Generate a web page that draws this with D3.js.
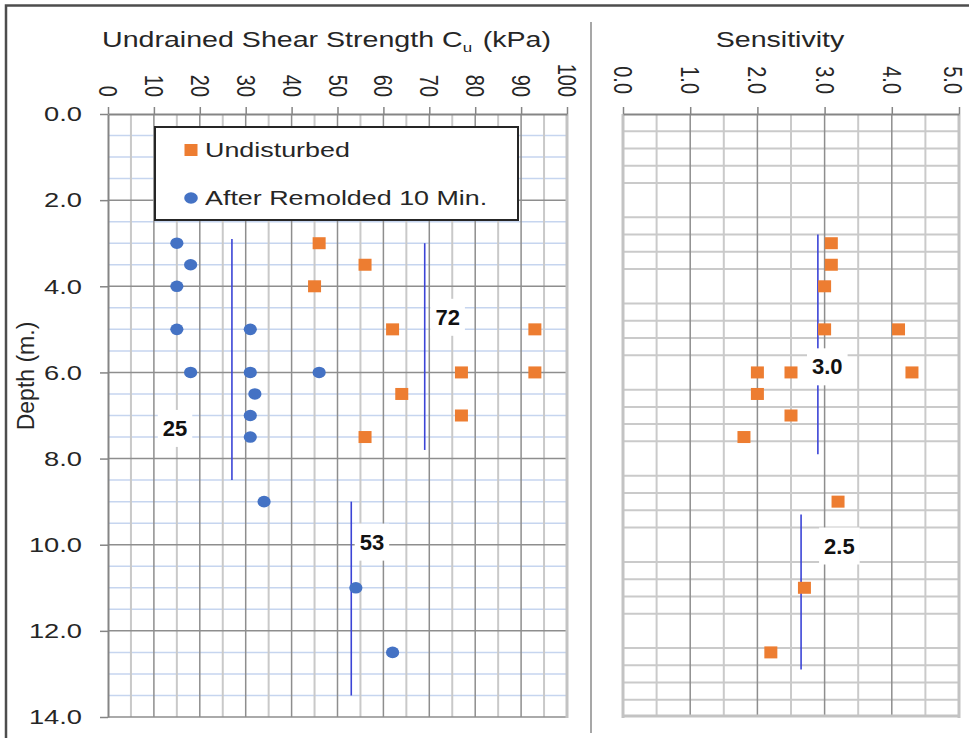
<!DOCTYPE html>
<html>
<head>
<meta charset="utf-8">
<script src="https://cdn.jsdelivr.net/npm/d3@7"></script>
<style>
  html, body { margin: 0; padding: 0; background: #ffffff; }
  svg { display: block; }
  text { font-family: "Liberation Sans", Arial, sans-serif; fill: #262626; }
</style>
</head>
<body>
<svg id="chart" width="969" height="738"></svg>
<script>
// ---------------- DATA ----------------
const cuTicks = [0, 10, 20, 30, 40, 50, 60, 70, 80, 90, 100];
const sensTicks = [0, 1, 2, 3, 4, 5];
const sensTickLabels = ["0.0", "1.0", "2.0", "3.0", "4.0", "5.0"];
const depthTicks = [0, 2, 4, 6, 8, 10, 12, 14];
const depthTickLabels = ["0.0", "2.0", "4.0", "6.0", "8.0", "10.0", "12.0", "14.0"];

const seriesNames = ["Undisturbed", "After Remolded 10 Min."];

const depthUndisturbed = [3.0, 3.5, 4.0, 5.0, 5.0, 6.0, 6.0, 6.5, 7.0, 7.5];
const cuUndisturbed    = [46, 56, 45, 62, 93, 77, 93, 64, 77, 56];

const depthRemolded = [3.0, 3.5, 4.0, 5.0, 5.0, 6.0, 6.0, 6.0, 6.5, 7.0, 7.5, 9.0, 11.0, 12.5];
const cuRemolded    = [15, 18, 15, 15, 31, 18, 31, 46, 32, 31, 31, 34, 54, 62];

const depthSensitivity = [3.0, 3.5, 4.0, 5.0, 5.0, 6.0, 6.0, 6.0, 6.5, 7.0, 7.5, 9.0, 11.0, 12.5];
const sensitivity      = [3.1, 3.1, 3.0, 3.0, 4.1, 2.0, 2.5, 4.3, 2.0, 2.5, 1.8, 3.2, 2.7, 2.2];

// average lines (Cu panel)
const cuAvgText   = ["25", "72", "53"];
const cuAvgValue  = [27, 69, 53];
const cuAvgFrom   = [2.9, 3.0, 9.0];
const cuAvgTo     = [8.5, 7.8, 13.5];
// average lines (Sensitivity panel)
const sensAvgText  = ["3.0", "2.5"];
const sensAvgValue = [2.9, 2.65];
const sensAvgFrom  = [2.8, 9.3];
const sensAvgTo    = [7.9, 12.9];

// ---------------- LAYOUT ----------------
const svg = d3.select("#chart");
const SX = 1.3; // horizontal glyph stretch seen in the reference

const yD = d3.scaleLinear().domain([0, 14]).range([114, 717]);
const xCu = d3.scaleLinear().domain([0, 100]).range([108, 567]);
const xS = d3.scaleLinear().domain([0, 5]).range([623, 959]);

// label anchor positions (data coords) for the average annotations
const cuAvgLabelPos = [[14.6, 7.3], [74, 4.72], [57.5, 9.94]];
const sensAvgLabelPos = [[3.04, 5.87], [3.22, 10.03]];

function sText(g, x, y, str, o) {
  const tr = `translate(${x},${y}) scale(${o.sx == null ? SX : o.sx},1)` + (o.rot ? ` rotate(${o.rot})` : "");
  return g.append("text")
    .attr("transform", tr)
    .attr("text-anchor", o.anchor || "start")
    .attr("dominant-baseline", o.base || "auto")
    .style("font-size", o.size + "px")
    .style("font-weight", o.weight || "normal")
    .text(str);
}

// ---------------- FRAME ----------------
svg.append("path").attr("d", "M6,738 V5.5 H969").attr("fill", "none")
  .attr("stroke", "#4d4d4d").attr("stroke-width", 2.5);
svg.append("line").attr("x1", 591).attr("x2", 591).attr("y1", 22).attr("y2", 733)
  .attr("stroke", "#8a8a8a").attr("stroke-width", 1.5);

// ---------------- LEFT PANEL GRID ----------------
const gL = svg.append("g");
const minorDepthL = d3.range(0.5, 14, 0.5).filter(d => d % 2 !== 0);
gL.selectAll(".hminor").data(minorDepthL).join("line")
  .attr("x1", xCu(0)).attr("x2", xCu(100))
  .attr("y1", d => yD(d)).attr("y2", d => yD(d))
  .attr("stroke", "#c6d5ef").attr("stroke-width", 1.5);
gL.selectAll(".vminor").data(d3.range(5, 100, 10)).join("line")
  .attr("x1", d => xCu(d)).attr("x2", d => xCu(d))
  .attr("y1", yD(0)).attr("y2", yD(14))
  .attr("stroke", "#c9c9c9").attr("stroke-width", 2);
gL.selectAll(".vmajor").data(d3.range(10, 100, 10)).join("line")
  .attr("x1", d => xCu(d)).attr("x2", d => xCu(d))
  .attr("y1", yD(0)).attr("y2", yD(14))
  .attr("stroke", "#8e8e8e").attr("stroke-width", 1.5);
gL.selectAll(".hmajor").data([2, 4, 6, 8, 10, 12, 14]).join("line")
  .attr("x1", xCu(0)).attr("x2", xCu(100))
  .attr("y1", d => yD(d)).attr("y2", d => yD(d))
  .attr("stroke", "#8e8e8e").attr("stroke-width", 1.5);
gL.append("line").attr("x1", xCu(100)).attr("x2", xCu(100)).attr("y1", yD(0)).attr("y2", yD(14) + 1)
  .attr("stroke", "#c3c3c3").attr("stroke-width", 3);

// axes
const axTop = d3.axisTop(xCu).tickValues(cuTicks).tickSize(7).tickSizeOuter(0).tickFormat("");
const gAxTop = gL.append("g").attr("transform", `translate(0,${yD(0)})`).call(axTop);
const axLeft = d3.axisLeft(yD).tickValues(depthTicks).tickSize(8).tickSizeOuter(0).tickFormat("");
const gAxLeft = gL.append("g").attr("transform", `translate(${xCu(0)},0)`).call(axLeft);
[gAxTop, gAxLeft].forEach(g => {
  g.selectAll("path.domain").attr("stroke", "#858585").attr("stroke-width", 2);
  g.selectAll(".tick line").attr("stroke", "#858585").attr("stroke-width", 1.5);
});

// tick labels
cuTicks.forEach(v => sText(gL, xCu(v), 97, String(v), { size: 20, rot: 90, anchor: "end", base: "central" }));
depthTicks.forEach((d, i) => sText(gL, 82, yD(d), depthTickLabels[i], { size: 21, anchor: "end", base: "central" }));

// titles
const t1 = sText(svg, 102, 47, "Undrained Shear Strength C", { size: 22 });
t1.append("tspan").attr("dy", 5).style("font-size", "13px").text("u");
sText(svg, 551, 47, "(kPa)", { size: 22, anchor: "end" });
sText(svg, 780, 47, "Sensitivity", { size: 22, anchor: "middle" });
svg.append("text").attr("transform", `translate(26,376) rotate(-90)`)
  .attr("text-anchor", "middle").attr("dominant-baseline", "central")
  .style("font-size", "23px").text("Depth (m.)");

// ---------------- RIGHT PANEL GRID ----------------
const gR = svg.append("g");
const minorDepthR = d3.range(1, 35).map(k => +(k * 0.4).toFixed(1)).filter(d => Math.abs(d / 2 - Math.round(d / 2)) > 1e-6);
gR.selectAll(".hminor").data(minorDepthR).join("line")
  .attr("x1", xS(0)).attr("x2", xS(5))
  .attr("y1", d => yD(d)).attr("y2", d => yD(d))
  .attr("stroke", "#cacaca").attr("stroke-width", 2);
gR.selectAll(".vminor").data(d3.range(0.5, 5, 1)).join("line")
  .attr("x1", d => xS(d)).attr("x2", d => xS(d))
  .attr("y1", yD(0)).attr("y2", yD(14))
  .attr("stroke", "#cacaca").attr("stroke-width", 2);
gR.selectAll(".vmajor").data([1, 2, 3, 4]).join("line")
  .attr("x1", d => xS(d)).attr("x2", d => xS(d))
  .attr("y1", yD(0)).attr("y2", yD(14))
  .attr("stroke", "#8e8e8e").attr("stroke-width", 1.5);
gR.selectAll(".border").data([0, 5]).join("line")
  .attr("x1", d => xS(d)).attr("x2", d => xS(d))
  .attr("y1", yD(0)).attr("y2", yD(14) + 1)
  .attr("stroke", "#c3c3c3").attr("stroke-width", 3);
gR.append("line").attr("x1", xS(0)).attr("x2", xS(5)).attr("y1", yD(14) - 1).attr("y2", yD(14) - 1)
  .attr("stroke", "#c3c3c3").attr("stroke-width", 3);
const axTopR = d3.axisTop(xS).tickValues(sensTicks).tickSize(7).tickSizeOuter(0).tickFormat("");
const gAxTopR = gR.append("g").attr("transform", `translate(0,${yD(0)})`).call(axTopR);
gAxTopR.selectAll("path.domain").attr("stroke", "#858585").attr("stroke-width", 2);
gAxTopR.selectAll(".tick line").attr("stroke", "#858585").attr("stroke-width", 1.5);
sensTicks.forEach((v, i) => sText(gR, Math.min(xS(v), 953), 94, sensTickLabels[i], { size: 20, rot: 90, anchor: "end", base: "central" }));

// ---------------- AVERAGE LINES ----------------
const avgColor = "#3b44d6";
cuAvgValue.forEach((v, i) => {
  gL.append("line").attr("x1", xCu(v)).attr("x2", xCu(v))
    .attr("y1", yD(cuAvgFrom[i])).attr("y2", yD(cuAvgTo[i]))
    .attr("stroke", avgColor).attr("stroke-width", 1.6);
});
sensAvgValue.forEach((v, i) => {
  gR.append("line").attr("x1", xS(v)).attr("x2", xS(v))
    .attr("y1", yD(sensAvgFrom[i])).attr("y2", yD(sensAvgTo[i]))
    .attr("stroke", avgColor).attr("stroke-width", 1.6);
});

// ---------------- MARKERS ----------------
const orange = "#ED7D31", blue = "#4472C4";
gL.selectAll(".und").data(cuUndisturbed).join("rect")
  .attr("x", d => xCu(d) - 6.5).attr("y", (d, i) => yD(depthUndisturbed[i]) - 6)
  .attr("width", 13).attr("height", 12).attr("fill", orange);
gL.selectAll(".rem").data(cuRemolded).join("ellipse")
  .attr("cx", d => xCu(d)).attr("cy", (d, i) => yD(depthRemolded[i]))
  .attr("rx", 6.6).attr("ry", 5.8).attr("fill", blue);
gR.selectAll(".sens").data(sensitivity).join("rect")
  .attr("x", d => xS(d) - 6.5).attr("y", (d, i) => yD(depthSensitivity[i]) - 6)
  .attr("width", 13).attr("height", 12).attr("fill", orange);

// ---------------- AVERAGE LABELS ----------------
function avgLabel(g, x, y, str) {
  const t = g.append("text").attr("x", x).attr("y", y)
    .attr("text-anchor", "middle").attr("dominant-baseline", "central")
    .style("font-size", "22px").style("font-weight", "bold").style("fill", "#111").text(str);
  const bb = t.node().getBBox();
  g.insert("rect", () => t.node())
    .attr("x", bb.x - 5).attr("y", bb.y - 6).attr("width", bb.width + 10).attr("height", bb.height + 12)
    .attr("fill", "#ffffff");
}
cuAvgText.forEach((s, i) => avgLabel(gL, xCu(cuAvgLabelPos[i][0]), yD(cuAvgLabelPos[i][1]), s));
sensAvgText.forEach((s, i) => avgLabel(gR, xS(sensAvgLabelPos[i][0]), yD(sensAvgLabelPos[i][1]), s));

// ---------------- LEGEND ----------------
const gLeg = svg.append("g");
gLeg.append("rect").attr("x", 155).attr("y", 127).attr("width", 363).attr("height", 93)
  .attr("fill", "#ffffff").attr("stroke", "#262626").attr("stroke-width", 2);
gLeg.append("rect").attr("x", 184.5).attr("y", 144).attr("width", 13).attr("height", 12).attr("fill", orange);
gLeg.append("ellipse").attr("cx", 191).attr("cy", 198).attr("rx", 6.8).attr("ry", 5.8).attr("fill", blue);
sText(gLeg, 205, 150, seriesNames[0], { size: 21, sx: 1.28, base: "central" });
sText(gLeg, 205, 198, seriesNames[1], { size: 21, sx: 1.28, base: "central" });
</script>
</body>
</html>
